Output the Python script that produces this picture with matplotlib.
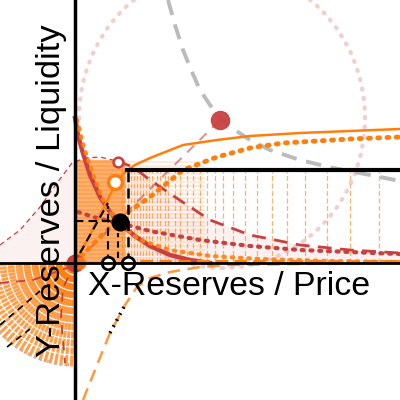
import matplotlib
matplotlib.use("Agg")
import matplotlib.pyplot as plt
import numpy as np
from matplotlib.patches import Ellipse, Arc

RED = "#c94040"
ORANGE = "#ff7f0e"

# curves (x = reserves/price, y = reserves/liquidity)
orange_x = [0, 0.15, 0.25, 0.35, 0.42, 0.5, 0.6, 0.75, 1.08, 1.42, 1.75, 2.25, 2.75, 3.25]
orange_y = [0, 0.28, 0.48, 0.68, 0.81, 0.91, 0.98, 1.05, 1.18, 1.23, 1.27, 1.30, 1.32, 1.34]

orange_dot_x = [0, 0.25, 0.5, 0.75, 1.08, 1.42, 1.75, 2.08, 2.42, 2.75, 3.25]
orange_dot_y = [0, 0.26, 0.49, 0.66, 0.93, 1.06, 1.15, 1.20, 1.22, 1.24, 1.26]

hyper_x = [0.02, 0.07, 0.12, 0.2, 0.3, 0.45, 0.65, 0.95, 1.35, 1.85, 2.55, 3.25]
hyper_y = [1.43, 1.23, 1.06, 0.83, 0.58, 0.38, 0.23, 0.13, 0.07, 0.04, 0.02, 0.01]

red_x = [0, 0.03, 0.07, 0.15, 0.25, 0.35, 0.45, 0.6, 0.75, 0.95, 1.15, 1.35]
red_y = [1.45, 1.28, 1.13, 0.88, 0.66, 0.51, 0.39, 0.27, 0.17, 0.08, 0.03, 0.0]

pdf_left_x = [-0.75, -0.55, -0.35, -0.18, -0.03, 0.1, 0.25, 0.42]
pdf_left_y = [0.18, 0.33, 0.56, 0.80, 1.00, 1.05, 1.06, 1.02]
pdf_right_x = [0.42, 0.58, 0.75, 1.0, 1.35, 1.75, 2.25, 2.75, 3.25]
pdf_right_y = [1.02, 0.96, 0.83, 0.66, 0.43, 0.28, 0.18, 0.13, 0.10]

red_dot_x = [0.03, 0.25, 0.52, 0.75, 1.25, 1.75, 2.25, 2.75, 3.25]
red_dot_y = [0.51, 0.44, 0.38, 0.32, 0.23, 0.17, 0.13, 0.11, 0.09]

gray_x = [0.93, 1.0, 1.08, 1.17, 1.25, 1.35, 1.45, 1.6, 1.75, 1.95, 2.25, 2.58, 2.95, 3.25]
gray_y = [2.63, 2.38, 2.13, 1.91, 1.73, 1.58, 1.45, 1.33, 1.23, 1.13, 1.03, 0.95, 0.88, 0.82]

cdf_x = [0.08, 0.2, 0.35, 0.5, 0.62, 0.75, 0.95, 1.25, 1.52, 2.25, 3.25]
cdf_y = [-1.37, -1.07, -0.7, -0.42, -0.24, -0.15, -0.09, -0.04, -0.02, -0.01, 0]

fan_left_x = [-0.75, -0.42, -0.08, 0]
fan_left_y = [-0.2, -0.17, -0.05, 0]
fan_down_x = [0, -0.12, -0.14, -0.1]
fan_down_y = [0, -0.25, -0.55, -1.0]

vlines_x = [0.47, 0.5, 0.53, 0.56, 0.59, 0.62, 0.65, 0.68, 0.71, 0.74, 0.77, 0.82, 0.85,
            0.9, 0.93, 1.0, 1.05, 1.12, 1.18, 1.25, 1.32, 1.4, 1.48, 1.58, 1.7, 1.82,
            1.97, 2.12, 2.3, 2.52, 2.75, 3.04]
hlines_y = [0.01, 0.05, 0.09, 0.13, 0.17, 0.21, 0.25, 0.29, 0.33, 0.37, 0.41, 0.45, 0.49,
            0.53, 0.57, 0.61, 0.65, 0.69, 0.73, 0.77, 0.81, 0.85, 0.89, 0.93, 0.97, 1.01]
fan_angles = [181, 184, 187, 190, 193, 196, 199, 202, 205, 208, 211, 214, 217, 220, 223,
              226, 229, 232, 235, 238, 241, 244, 247, 250, 253, 256, 259, 262, 265, 268]
fan_radii = [0.12, 0.2, 0.28, 0.36, 0.44, 0.52, 0.6, 0.68, 0.76, 0.84, 0.92]

fig = plt.figure(figsize=(4, 4), dpi=100)
ax = fig.add_axes([0, 0, 1, 1])
ax.set_xlim(-0.75, 3.25)
ax.set_ylim(-1.37, 2.63)

# shaded density under the bell curve
ax.fill_between(pdf_left_x + pdf_right_x[1:], pdf_left_y + pdf_right_y[1:], 0,
                color=RED, alpha=0.07, lw=0)

# lower-left fan
for a in fan_angles:
    ax.plot([0, 1.02 * np.cos(np.radians(a))], [0, 1.02 * np.sin(np.radians(a))],
            color=ORANGE, lw=2.2, alpha=0.75, zorder=1)
for r in fan_radii:
    ax.add_patch(Arc((0, 0), 2 * r, 2 * r, theta1=180, theta2=270, color="white", lw=0.8, zorder=1.5))
ax.add_patch(Arc((0, 0), 2.04, 2.04, theta1=180, theta2=270, color="#bbbbbb", lw=2.5,
                 linestyle=(0, (0.5, 1.5)), zorder=2))
ax.plot([-0.75, -0.35], [-0.62, -0.28], color="black", lw=1.2, ls=(0, (4, 3)), zorder=3)
ax.plot([-0.68, -0.45], [-0.84, -0.66], color="black", lw=1.2, ls=(0, (4, 3)), zorder=3)
ax.plot(fan_left_x, fan_left_y, color=RED, lw=1.3, ls=(0, (5, 4)), zorder=3)
ax.plot(fan_down_x, fan_down_y, color=RED, lw=1.3, ls=(0, (5, 4)), zorder=3)

# liquidity bands
ax.hlines(hlines_y, 0, 0.5, color=ORANGE, lw=2.6, alpha=0.7, zorder=1)
ax.hlines(hlines_y, 0.5, 1.3, color=ORANGE, lw=1.5, alpha=0.15, zorder=1)
ax.vlines(vlines_x, 0, 0.96, color=ORANGE, lw=0.9, alpha=0.6, linestyles=(0, (4, 2)), zorder=1)

# big circle and invariant curve
ax.add_patch(Ellipse((1.47, 1.45), 2.86, 3.0, fill=False, edgecolor="#e8a8a8", alpha=0.55,
                     lw=3, linestyle=(0, (0.3, 2)), capstyle="round", zorder=2))
ax.plot(gray_x, gray_y, color="#aaaaaa", lw=2.8, ls=(0, (4, 2.5)), alpha=0.8, zorder=2)
ax.plot([0, 1.45], [0, 1.43], color=RED, lw=1.4, ls=(0, (5, 4)), alpha=0.6, zorder=2)
ax.plot(1.45, 1.43, "o", color=RED, ms=13, alpha=0.95, zorder=5)

ax.plot(pdf_left_x, pdf_left_y, color=RED, lw=0.9, ls=(0, (4, 3)), zorder=3)
ax.plot(pdf_right_x, pdf_right_y, color=RED, lw=2, ls=(0, (5, 3)), zorder=3)
ax.plot(red_dot_x, red_dot_y, color=RED, lw=3, ls=(0, (0.5, 1.6)), dash_capstyle="round", zorder=3)
ax.plot(red_x, red_y, color=RED, lw=3.2, zorder=4)

ax.plot(orange_x, orange_y, color=ORANGE, lw=1.8, zorder=4)
ax.plot(orange_dot_x, orange_dot_y, color=ORANGE, lw=3.5, ls=(0, (0.4, 1.5)),
        dash_capstyle="round", zorder=4)
ax.plot(hyper_x, hyper_y, color=ORANGE, lw=3, ls=(0, (0.4, 1.6)), dash_capstyle="round",
        alpha=0.9, zorder=4)
ax.plot(cdf_x, cdf_y, color=ORANGE, lw=1.8, ls=(0, (5, 3)), alpha=0.8, zorder=4)
ax.plot(cdf_x[2:4], cdf_y[2:4], color="black", lw=2.5, ls=(0, (0.5, 1.5)), zorder=4)
ax.plot([0.47, 3.25], [0.01, 0.01], color=ORANGE, lw=3, ls=(0, (3, 1.5)), zorder=4)

# position box
ax.plot([0.52, 3.25], [0.93, 0.93], color="black", lw=3, zorder=5)
ax.plot([0.53, 0.53], [0, 0.93], color="black", lw=1.8, ls=(0, (4, 2.5)), zorder=5)
ax.plot([0.33, 0.33], [0, 0.57], color="black", lw=1.5, ls=(0, (4, 2.5)), zorder=5)
ax.plot([0.43, 0.43], [0.05, 0.3], color="black", lw=1.5, ls=(0, (3, 2)), zorder=5)
ax.plot([0.0, 0.45], [0.42, 0.42], color="black", lw=1.5, ls=(0, (4, 2.5)), zorder=5)
ax.plot([0.05, 0.33], [0.1, 0.6], color="black", lw=1.5, ls=(0, (4, 2.5)), zorder=5)
ax.plot([0.33, 0.53], [0, 0], "o", mfc="white", mec="black", mew=2, ms=9, zorder=6)
ax.plot(0.45, 0.41, "o", color="black", ms=12, zorder=6)
ax.plot(0.40, 0.81, "o", mfc="white", mec=ORANGE, mew=2.5, ms=10, zorder=6)
ax.plot(0.43, 1.01, "o", mfc="white", mec=RED, mew=1.8, ms=7, zorder=6)
ax.plot(0, 0, "o", color=RED, ms=12, zorder=6)
ax.plot(0.05, 0.0, "o", color=ORANGE, ms=8, alpha=0.8, zorder=6)

for side in ["top", "right"]:
    ax.spines[side].set_visible(False)
ax.spines["left"].set_position(("data", 0))
ax.spines["bottom"].set_position(("data", 0))
ax.spines["left"].set_linewidth(2.5)
ax.spines["bottom"].set_linewidth(2)
ax.spines["left"].set_zorder(7)
ax.spines["bottom"].set_zorder(7)
ax.set_xticks([])
ax.set_yticks([])

ax.text(0.13, -0.32, "X-Reserves / Price", fontsize=24.4, family="Liberation Sans",
        ha="left", va="baseline", zorder=8)
ax.text(-0.15, 0.72, "Y-Reserves / Liquidity", fontsize=24.8, family="Liberation Sans",
        rotation=90, rotation_mode="anchor", ha="center", va="baseline", zorder=8)

fig.savefig("out.png", dpi=100)
